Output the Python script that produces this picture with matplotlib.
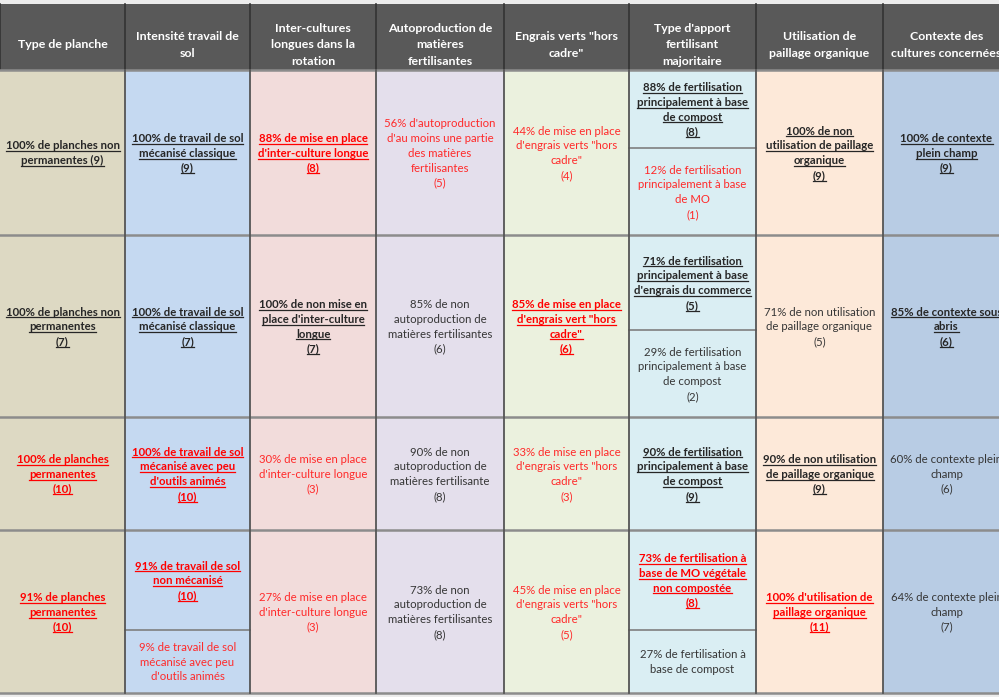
import matplotlib
matplotlib.use("Agg")
import matplotlib.pyplot as plt
from matplotlib.patches import Rectangle

# ---- data ----
headers = [
    "Type de planche",
    "Intensité travail de\nsol",
    "Inter-cultures\nlongues dans la\nrotation",
    "Autoproduction de\nmatières\nfertilisantes",
    "Engrais verts \"hors\ncadre\"",
    "Type d'apport\nfertilisant\nmajoritaire",
    "Utilisation de\npaillage organique",
    "Contexte des\ncultures concernées",
]

# each cell = list of (text, style); style: bu = bold underlined, rbu = red bold underlined,
# n = normal, r = red normal
row1 = [
    [("100% de planches non\npermanentes (9)", "bu")],
    [("100% de travail de sol\nmécanisé classique\n(9)", "bu")],
    [("88% de mise en place\nd'inter-culture longue\n(8)", "rbu")],
    [("56% d'autoproduction\nd'au moins une partie\ndes matières\nfertilisantes\n(5)", "r")],
    [("44% de mise en place\nd'engrais verts \"hors\ncadre\"\n(4)", "r")],
    [("88% de fertilisation\nprincipalement à base\nde compost\n(8)", "bu"),
     ("12% de fertilisation\nprincipalement à base\nde MO\n(1)", "r")],
    [("100% de non\nutilisation de paillage\norganique\n(9)", "bu")],
    [("100% de contexte\nplein champ\n(9)", "bu")],
]
row2 = [
    [("100% de planches non\npermanentes\n(7)", "bu")],
    [("100% de travail de sol\nmécanisé classique\n(7)", "bu")],
    [("100% de non mise en\nplace d'inter-culture\nlongue\n(7)", "bu")],
    [("85% de non\nautoproduction de\nmatières fertilisantes\n(6)", "n")],
    [("85% de mise en place\nd'engrais vert \"hors\ncadre\"\n(6)", "rbu")],
    [("71% de fertilisation\nprincipalement à base\nd'engrais du commerce\n(5)", "bu"),
     ("29% de fertilisation\nprincipalement à base\nde compost\n(2)", "n")],
    [("71% de non utilisation\nde paillage organique\n(5)", "n")],
    [("85% de contexte sous\nabris\n(6)", "bu")],
]
row3 = [
    [("100% de planches\npermanentes\n(10)", "rbu")],
    [("100% de travail de sol\nmécanisé avec peu\nd'outils animés\n(10)", "rbu")],
    [("30% de mise en place\nd'inter-culture longue\n(3)", "r")],
    [("90% de non\nautoproduction de\nmatières fertilisante\n(8)", "n")],
    [("33% de mise en place\nd'engrais verts \"hors\ncadre\"\n(3)", "r")],
    [("90% de fertilisation\nprincipalement à base\nde compost\n(9)", "bu")],
    [("90% de non utilisation\nde paillage organique\n(9)", "bu")],
    [("60% de contexte plein\nchamp\n(6)", "n")],
]
row4 = [
    [("91% de planches\npermanentes\n(10)", "rbu")],
    [("91% de travail de sol\nnon mécanisé\n(10)", "rbu"),
     ("9% de travail de sol\nmécanisé avec peu\nd'outils animés", "r")],
    [("27% de mise en place\nd'inter-culture longue\n(3)", "r")],
    [("73% de non\nautoproduction de\nmatières fertilisantes\n(8)", "n")],
    [("45% de mise en place\nd'engrais verts \"hors\ncadre\"\n(5)", "r")],
    [("73% de fertilisation à\nbase de MO végétale\nnon compostée\n(8)", "rbu"),
     ("27% de fertilisation à\nbase de compost", "n")],
    [("100% d'utilisation de\npaillage organique\n(11)", "rbu")],
    [("64% de contexte plein\nchamp\n(7)", "n")],
]
rows = [row1, row2, row3, row4]

# ---- layout (pixels) ----
W, H = 999, 697
col_edges = [0, 125, 250, 376, 504, 629, 756, 883, 1010]
row_edges = [4, 70, 235, 417, 530, 693]
splits = {(0, 5): 148, (1, 5): 330, (3, 1): 630, (3, 5): 630}
col_colors = ["#ddd9c3", "#c5d9f1", "#f2dcdb", "#e4dfec",
              "#ebf1de", "#daeef3", "#fde9d9", "#b8cce4"]
styles = {
    "bu": ("#262626", "bold", True),
    "rbu": ("#ff0000", "bold", True),
    "n": ("#363636", "normal", False),
    "r": ("#ff2a2a", "normal", False),
}
FONT = "Lato"
FS = 8.2
FS_HEAD = 8.9
LINE = 14.7

fig = plt.figure(figsize=(W / 100, H / 100), dpi=100, facecolor="#ececec")
ax = fig.add_axes([0, 0, 1, 1])
ax.set_xlim(0, W)
ax.set_ylim(H, 0)
ax.axis("off")

underlined = []


def put_text(text, cx, cy, color, weight, ul, fs=FS, line=LINE):
    lines = text.split("\n")
    n = len(lines)
    for i, ln in enumerate(lines):
        y = cy + (i - (n - 1) / 2) * line
        t = ax.text(cx, y + 4.3, ln, ha="center", va="baseline", color=color,
                    fontsize=fs, fontweight=weight, family=FONT)
        if ul:
            underlined.append((t, y + 6.0, color))


# header
ax.add_patch(Rectangle((0, row_edges[0]), W + 20, row_edges[1] - row_edges[0],
                       facecolor="#595959", edgecolor="none"))
for j, h in enumerate(headers):
    cx = (col_edges[j] + col_edges[j + 1]) / 2
    put_text(h, cx, 44, "white", "bold", False, fs=FS_HEAD, line=16.8)
    ax.plot([col_edges[j], col_edges[j]], [row_edges[0], row_edges[1]],
            color="#333333", lw=1.2)

# body
for i, row in enumerate(rows):
    y0, y1 = row_edges[i + 1], row_edges[i + 2]
    for j, cell in enumerate(row):
        x0, x1 = col_edges[j], col_edges[j + 1]
        ax.add_patch(Rectangle((x0, y0), x1 - x0, y1 - y0,
                               facecolor=col_colors[j], edgecolor="none"))
        cx = (x0 + x1) / 2
        if len(cell) == 1:
            txt, st = cell[0]
            put_text(txt, cx, (y0 + y1) / 2, *styles[st])
        else:
            ys = splits[(i, j)]
            for (txt, st), (a, b) in zip(cell, [(y0, ys), (ys, y1)]):
                put_text(txt, cx, (a + b) / 2, *styles[st])
            ax.plot([x0, x1], [ys, ys], color="#7f7f7f", lw=1.2)

# grid lines
for i in range(1, len(row_edges)):
    ax.plot([0, W + 20], [row_edges[i], row_edges[i]], color="#8c8c8c", lw=1.8)
for x in col_edges[1:-1]:
    ax.plot([x, x], [row_edges[1], row_edges[-1]], color="#555555", lw=1.3)

# underlines, measured from rendered text
fig.canvas.draw()
rend = fig.canvas.get_renderer()
inv = ax.transData.inverted()
for t, yu, color in underlined:
    bb = t.get_window_extent(rend)
    (xa, _), (xb, _) = inv.transform([(bb.x0, 0), (bb.x1, 0)])
    ax.plot([xa, xb], [yu, yu], color=color, lw=0.9)

fig.savefig("out.png", dpi=100, facecolor=fig.get_facecolor())
